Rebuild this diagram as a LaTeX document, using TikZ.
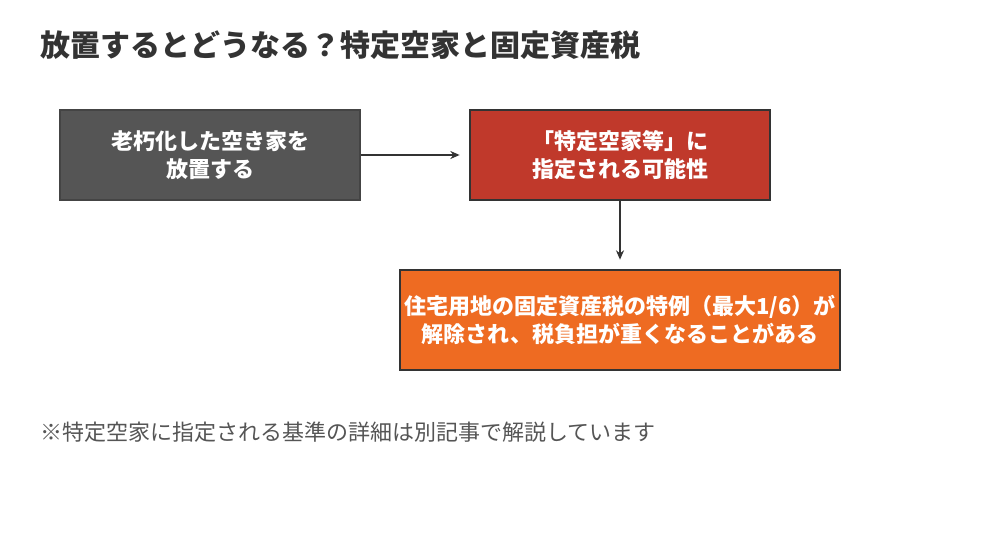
\documentclass[tikz,border=0pt]{standalone}
\usepackage{fontspec}
\setmainfont{Noto Sans CJK JP}
\usetikzlibrary{arrows.meta}
\definecolor{dk}{HTML}{555555}
\definecolor{rd}{HTML}{C0392B}
\definecolor{og}{HTML}{EE6B22}
\definecolor{ln}{HTML}{333333}
\begin{document}
\begin{tikzpicture}[x=0.75pt,y=-0.75pt,
 box/.style={draw=ln,line width=1.5pt,text=white,font=\bfseries\fontsize{16.5}{21}\selectfont,align=center,inner sep=0pt},
 arr/.style={draw=ln,line width=1.3pt,-{Stealth[length=7pt,width=6pt]},shorten >=7pt}]
\useasboundingbox[fill=white] (0,0) rectangle (1000,560);
\node[anchor=west,font=\bfseries\fontsize{22.5}{26}\selectfont,text=ln,inner sep=0pt] (t) at (40,45) {放置するとどうなる？特定空家と固定資産税};
\node[box,fill=dk,draw=dk!80!black,minimum width=300*0.75pt,minimum height=90*0.75pt] (a) at (210,155) {老朽化した空き家を\\放置する};
\node[box,fill=rd,minimum width=300*0.75pt,minimum height=90*0.75pt] (b) at (620,155) {「特定空家等」に\\指定される可能性};
\node[box,fill=og,minimum width=440*0.75pt,minimum height=100*0.75pt] (c) at (620,320) {住宅用地の固定資産税の特例（最大1/6）が\\解除され、税負担が重くなることがある};
\draw[arr] (a) -- (b);
\draw[arr] (b) -- (c);
\node[anchor=west,font=\fontsize{16.5}{19}\selectfont,text=dk,inner sep=0pt] (n) at (40,432) {※特定空家に指定される基準の詳細は別記事で解説しています};
\end{tikzpicture}
\end{document}
